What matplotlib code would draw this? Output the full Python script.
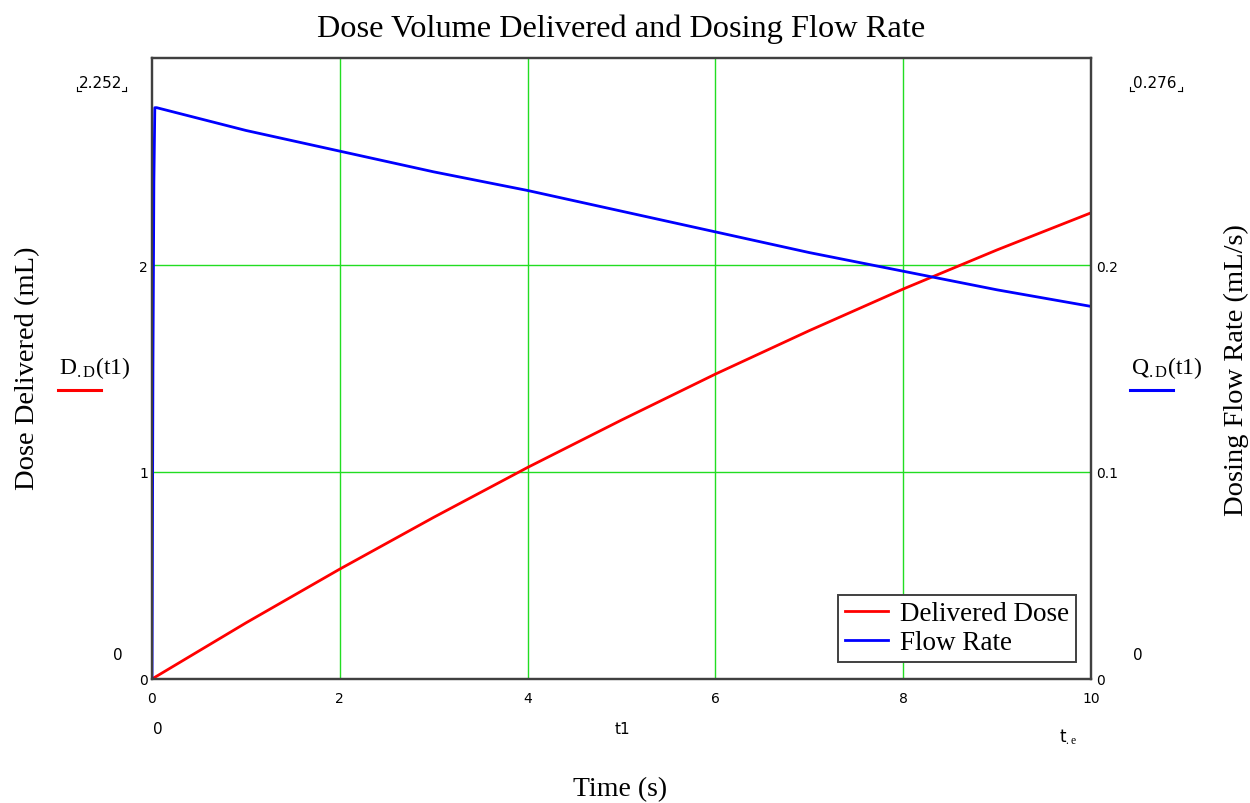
import numpy as np
import matplotlib
matplotlib.use("Agg")
import matplotlib.pyplot as plt

# Data
time_s = [0.0, 0.01, 0.02, 0.03, 0.05, 1.0, 2.0, 3.0, 4.0, 5.0, 6.0, 7.0, 8.0, 9.0, 10.0]
flow_rate = [0.0, 0.15, 0.24, 0.276, 0.276, 0.265, 0.255, 0.245, 0.236,
             0.226, 0.216, 0.206, 0.197, 0.188, 0.180]  # mL/s

dose_time = [0.0, 1.0, 2.0, 3.0, 4.0, 5.0, 6.0, 7.0, 8.0, 9.0, 10.0]
dose_delivered = [0.0, 0.271, 0.531, 0.781, 1.022, 1.251, 1.473,
                  1.683, 1.884, 2.073, 2.252]  # mL

x_ticks = [0, 2, 4, 6, 8, 10]
left_ticks = [0, 1, 2]
right_ticks = [0.1, 0.2]

W, H = 1250, 804
SERIF = "Liberation Serif"
SANS = "DejaVu Sans"

plt.rcParams["mathtext.fontset"] = "custom"
plt.rcParams["mathtext.rm"] = SERIF
plt.rcParams["mathtext.it"] = SERIF


def px(x, y):
    """Pixel coords of the reference image to figure fraction."""
    return x / W, 1 - y / H


def corner_marks(fig, x0, x1, y):
    # little Mathcad style brackets around the limit readouts
    for xa, xb in ((x0, x0 + 4), (x1, x1 - 4)):
        fig.add_artist(plt.Line2D([xa / W, xa / W], [1 - (y - 4) / H, 1 - y / H],
                                  color="black", lw=0.8))
        fig.add_artist(plt.Line2D([xa / W, xb / W], [1 - y / H] * 2, color="black", lw=0.8))


fig = plt.figure(figsize=(W / 100, H / 100), dpi=100)
ax = fig.add_axes([152 / W, 1 - 680 / H, (1091 - 152) / W, (680 - 59) / H])
ax2 = ax.twinx()

grid_green = "#22dd22"
for xv in x_ticks[1:-1]:
    ax.axvline(xv, color=grid_green, lw=1.0, zorder=0)
for yv in left_ticks[1:]:
    ax.axhline(yv, color=grid_green, lw=1.0, zorder=0)

l1, = ax.plot(dose_time, dose_delivered, color="#ff0000", lw=2.0, label="Delivered Dose")
l2, = ax2.plot(time_s, flow_rate, color="#0000ff", lw=2.0, label="Flow Rate")

ax.set_xlim(0, 10)
ax.set_ylim(0, 3)
ax2.set_ylim(0, 0.3)

for a in (ax, ax2):
    for s in a.spines.values():
        s.set_color("#404040")
        s.set_linewidth(1.6)
    a.tick_params(length=0, labelsize=10)

ax.set_xticks(x_ticks)
ax.set_xticklabels([str(v) for v in x_ticks], fontfamily=SANS, fontsize=10)
ax.tick_params(axis="x", pad=9)
ax.set_yticks(left_ticks)
ax.set_yticklabels([str(v) for v in left_ticks], fontfamily=SANS, fontsize=10)
ax.tick_params(axis="y", pad=3)
ax2.set_yticks([0] + right_ticks)
ax2.set_yticklabels(["0", "0.1", "0.2"], fontfamily=SANS, fontsize=10)
ax2.tick_params(axis="y", pad=4)

ax.set_title("Dose Volume Delivered and Dosing Flow Rate", fontfamily=SERIF,
             fontsize=23.3, pad=16)

leg = ax.legend(handles=[l1, l2], loc="lower right", bbox_to_anchor=(0.984, 0.027),
                borderaxespad=0, fancybox=False, framealpha=1, edgecolor="#404040",
                prop={"family": SERIF, "size": 19.5}, handlelength=1.6,
                handletextpad=0.45, borderpad=0.25, labelspacing=0.15)
leg.get_frame().set_linewidth(1.4)

# axis titles
fig.text(*px(620, 790), "Time (s)", ha="center", va="center", fontfamily=SERIF, fontsize=20)
fig.text(*px(28, 368), "Dose Delivered (mL)", ha="center", va="center",
         rotation=90, fontfamily=SERIF, fontsize=20.5)
fig.text(*px(1236, 370), "Dosing Flow Rate (mL/s)", ha="center", va="center",
         rotation=90, fontfamily=SERIF, fontsize=20.5)

# trace labels with line samples
fig.text(*px(95, 368), r"$\mathrm{D}_{\mathrm{.D}}\mathrm{(t1)}$", ha="center", va="center",
         fontsize=17)
fig.add_artist(plt.Line2D([58 / W, 101 / W], [1 - 391 / H] * 2, color="#ff0000", lw=2.2))
fig.text(*px(1167, 368), r"$\mathrm{Q}_{\mathrm{.D}}\mathrm{(t1)}$", ha="center", va="center",
         fontsize=17)
fig.add_artist(plt.Line2D([1130 / W, 1173 / W], [1 - 391 / H] * 2, color="#0000ff", lw=2.2))

# limit readouts
fig.text(*px(101, 84), "2.252", ha="center", va="center", fontfamily=SANS, fontsize=11)
corner_marks(fig, 77, 126, 92)
fig.text(*px(1155, 84), "0.276", ha="center", va="center", fontfamily=SANS, fontsize=11)
corner_marks(fig, 1130, 1182, 92)
fig.text(*px(118, 656), "0", ha="center", va="center", fontfamily=SANS, fontsize=11)
fig.text(*px(1138, 656), "0", ha="center", va="center", fontfamily=SANS, fontsize=11)
fig.text(*px(158, 730), "0", ha="center", va="center", fontfamily=SANS, fontsize=11)
fig.text(*px(622, 730), "t1", ha="center", va="center", fontfamily=SANS, fontsize=11)
fig.text(*px(1068, 737), r"t$_{.e}$", ha="center", va="center", fontfamily=SANS, fontsize=12)

fig.savefig("out.png", dpi=100)
